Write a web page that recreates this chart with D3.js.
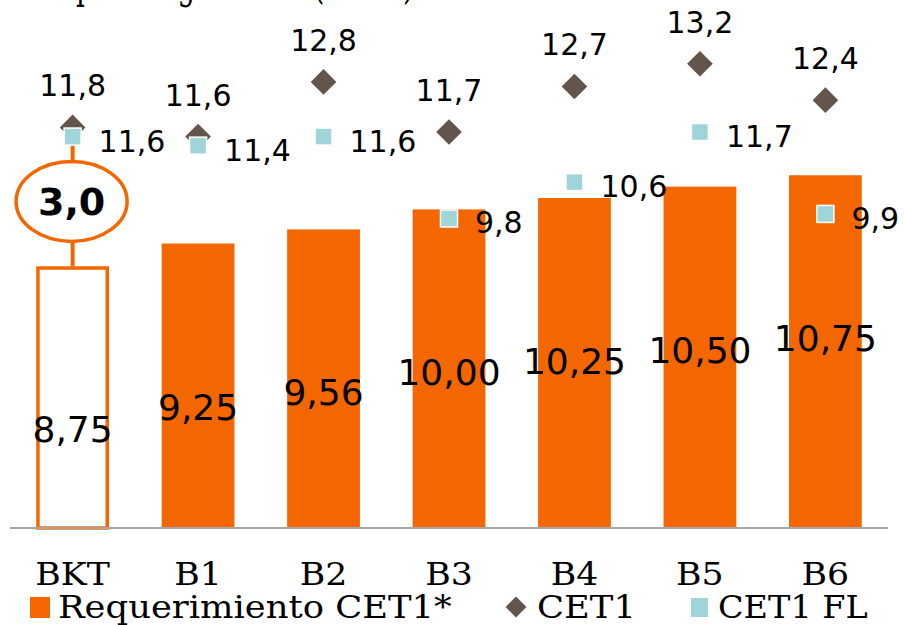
<!DOCTYPE html>
<html>
<head>
<meta charset="utf-8">
<script src="https://cdn.jsdelivr.net/npm/d3@7"></script>
<style>
  html, body { margin: 0; padding: 0; background: #ffffff; }
  svg { display: block; }
</style>
</head>
<body>
<svg id="chart" width="904" height="625"></svg>
<script>
// ---- data ----
const categories = ["BKT", "B1", "B2", "B3", "B4", "B5", "B6"];
const requerimiento = [8.75, 9.25, 9.56, 10.00, 10.25, 10.50, 10.75];
const cet1 = [11.8, 11.6, 12.8, 11.7, 12.7, 13.2, 12.4];
const cet1FL = [11.6, 11.4, 11.6, 9.8, 10.6, 11.7, 9.9];
const seriesNames = ["Requerimiento CET1*", "CET1", "CET1 FL"];
const titleText = "Capital regulatorio (SREP)";
const gapLabel = "3,0";

// ---- setup ----
const ORANGE = "#f46700", BROWN = "#63554b", TEAL = "#9fd4d8";
const numFont = "'DejaVu Sans', sans-serif";
const serifFont = "'DejaVu Serif', serif";
const svg = d3.select("#chart");

const x = d3.scaleBand().domain(categories).range([10, 888]).paddingInner(0.42).paddingOuter(0.209);
const y = d3.scaleLinear().domain([3, 14.6]).range([528, 0]);
const fmt = (v, d) => v.toFixed(d).replace(".", ",");
const cx = c => x(c) + x.bandwidth() / 2;
const widen = (sel, f) => sel.each(function () {
  const w = this.getComputedTextLength();
  d3.select(this).attr("textLength", w * f).attr("lengthAdjust", "spacingAndGlyphs");
});

// partially visible title (only descenders show, as in the reference)
const title = svg.append("text").attr("x", 0).attr("y", -2)
  .attr("font-family", serifFont).attr("font-size", 44).attr("fill", "#000")
  .text(titleText);
{
  const node = title.node();
  const iP = titleText.indexOf("p");
  const iR = titleText.lastIndexOf(")");
  const pX = node.getExtentOfChar(iP).x;
  const rX = node.getExtentOfChar(iR).x;
  const s = (403 - 76) / (rX - pX);
  title.attr("transform", `translate(${76 - s * pX},0) scale(${s},1)`);
}

// bars
const bars = categories.map((c, i) => ({ c, v: requerimiento[i], i }));
svg.selectAll("rect.bar").data(bars).enter().append("rect")
  .attr("class", "bar")
  .attr("x", d => d.i === 0 ? x(d.c) + 1.75 : x(d.c))
  .attr("y", d => d.i === 0 ? y(d.v) + 1.75 : y(d.v))
  .attr("width", d => d.i === 0 ? x.bandwidth() - 3.5 : x.bandwidth())
  .attr("height", d => d.i === 0 ? y(3) - y(d.v) - 1.75 : y(3) - y(d.v))
  .attr("fill", d => d.i === 0 ? "#ffffff" : ORANGE)
  .attr("stroke", d => d.i === 0 ? ORANGE : "none")
  .attr("stroke-width", 3.5);

// axis baseline
svg.append("line").attr("x1", 10).attr("x2", 888).attr("y1", y(3)).attr("y2", y(3))
  .attr("stroke", "#a6a6a6").attr("stroke-width", 2);

// category labels
svg.selectAll("text.cat").data(categories).enter().append("text")
  .attr("class", "cat").attr("x", d => cx(d)).attr("y", 585)
  .attr("text-anchor", "middle").attr("font-family", serifFont).attr("font-size", 31)
  .attr("fill", "#000").text(d => d)
  .call(widen, 1.12);

// bar value labels
svg.selectAll("text.barlab").data(bars).enter().append("text")
  .attr("class", "barlab").attr("x", d => cx(d.c)).attr("y", d => y(d.v) + 176)
  .attr("text-anchor", "middle").attr("font-family", numFont).attr("font-size", 36)
  .attr("fill", "#000").text(d => fmt(d.v, 2));

// BKT annotation: connector + ellipse
const c0 = categories[0];
const midV = (cet1FL[0] + requerimiento[0]) / 2;
svg.append("line").attr("x1", cx(c0)).attr("x2", cx(c0))
  .attr("y1", y(cet1FL[0])).attr("y2", y(requerimiento[0]))
  .attr("stroke", ORANGE).attr("stroke-width", 4);
svg.append("ellipse").attr("cx", cx(c0) - 1).attr("cy", y(midV))
  .attr("rx", 55.5).attr("ry", 40)
  .attr("fill", "#fff").attr("stroke", ORANGE).attr("stroke-width", 3.5);
svg.append("text").attr("x", cx(c0) - 1).attr("y", y(midV) + 14)
  .attr("text-anchor", "middle").attr("font-family", numFont).attr("font-weight", "bold")
  .attr("font-size", 38).attr("fill", "#000").text(gapLabel);

// CET1 diamonds
const pts = categories.map((c, i) => ({ c, a: cet1[i], b: cet1FL[i] }));
svg.selectAll("path.dia").data(pts).enter().append("path")
  .attr("class", "dia")
  .attr("transform", d => `translate(${cx(d.c)},${y(d.a)})`)
  .attr("d", d3.symbol().type(d3.symbolDiamond2).size(420)())
  .attr("fill", BROWN);

// CET1 FL squares
svg.selectAll("rect.sq").data(pts).enter().append("rect")
  .attr("class", "sq")
  .attr("x", d => cx(d.c) - 8.5).attr("y", d => y(d.b) - 8.5)
  .attr("width", 17).attr("height", 17)
  .attr("fill", TEAL).attr("stroke", "#fff").attr("stroke-width", 1.5);

// diamond labels
svg.selectAll("text.dlab").data(pts).enter().append("text")
  .attr("class", "dlab").attr("x", d => cx(d.c)).attr("y", d => y(d.a) - 31)
  .attr("text-anchor", "middle").attr("font-family", numFont).attr("font-size", 30)
  .attr("fill", "#000").text(d => fmt(d.a, 1));

// square labels
svg.selectAll("text.slab").data(pts).enter().append("text")
  .attr("class", "slab").attr("x", d => cx(d.c) + 26).attr("y", d => y(d.b) + 15)
  .attr("text-anchor", "start").attr("font-family", numFont).attr("font-size", 30)
  .attr("fill", "#000").text(d => fmt(d.b, 1));

// legend
const lg = svg.append("g");
lg.append("rect").attr("x", 30).attr("y", 597).attr("width", 20).attr("height", 21).attr("fill", ORANGE);
lg.append("text").attr("x", 58).attr("y", 618).attr("font-family", serifFont).attr("font-size", 31)
  .attr("fill", "#000").text(seriesNames[0]).call(widen, 1.14);
lg.append("path").attr("transform", "translate(516,607)").attr("d", d3.symbol().type(d3.symbolDiamond2).size(280)())
  .attr("fill", BROWN);
lg.append("text").attr("x", 537).attr("y", 618).attr("font-family", serifFont).attr("font-size", 31)
  .attr("fill", "#000").text(seriesNames[1]).call(widen, 1.14);
lg.append("rect").attr("x", 691).attr("y", 598).attr("width", 17).attr("height", 19).attr("fill", TEAL);
lg.append("text").attr("x", 718).attr("y", 618).attr("font-family", serifFont).attr("font-size", 31)
  .attr("fill", "#000").text(seriesNames[2]).call(widen, 1.08);
</script>
</body>
</html>
